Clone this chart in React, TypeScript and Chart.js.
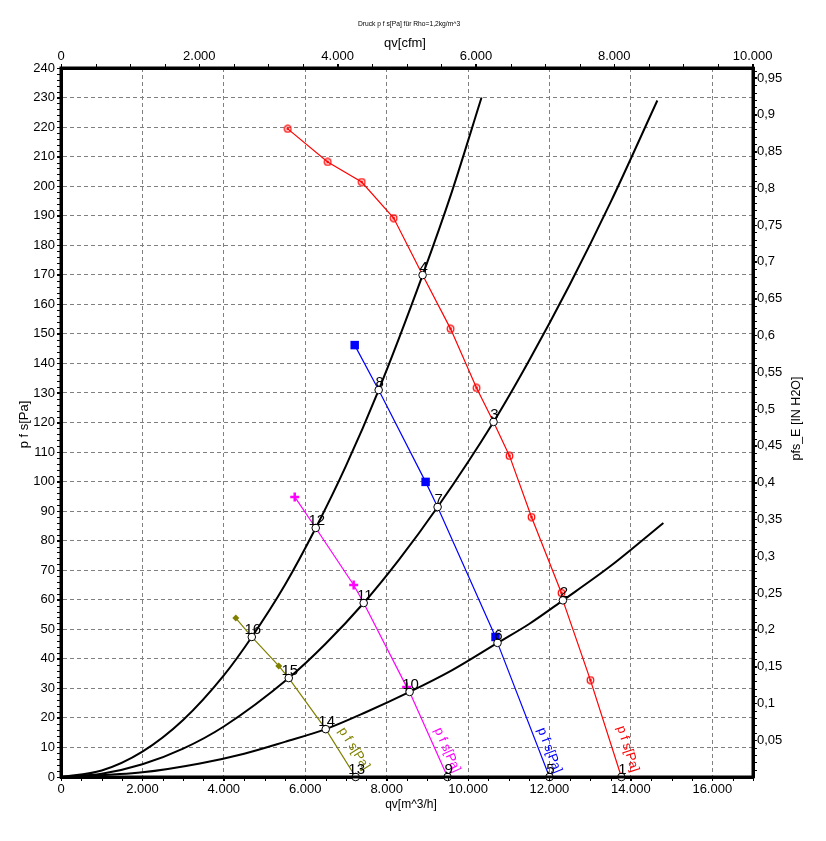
import React, { useEffect, useRef } from 'react';
import { Chart, registerables } from 'chart.js';

Chart.register(...registerables);

const FONT = "'Liberation Sans', Arial, Helvetica, sans-serif";

// axis ranges
const xMax = 17000; // qv [m^3/h]
const yMax = 240; // p f s [Pa]
const M3H_PER_CFM = 1.699;
const PA_PER_INH2O = 249.089;

// tick label values
const xTicks = [0, 2000, 4000, 6000, 8000, 10000, 12000, 14000, 16000];
const cfmTicks = [0, 2000, 4000, 6000, 8000, 10000];
const yTicks = [0, 10, 20, 30, 40, 50, 60, 70, 80, 90, 100, 110, 120, 130, 140, 150, 160, 170, 180, 190, 200, 210, 220, 230, 240];
const inTicks = [0.05, 0.1, 0.15, 0.2, 0.25, 0.3, 0.35, 0.4, 0.45, 0.5, 0.55, 0.6, 0.65, 0.7, 0.75, 0.8, 0.85, 0.9, 0.95];

// system curves (black)
const sysAX = [0, 1000, 2000, 3000, 4000, 4687, 5500, 6258, 7000, 7804, 8883, 9600, 10331];
const sysAY = [0, 2.2, 8.6, 19.3, 34.4, 47.4, 65, 84.3, 105.3, 131, 169.9, 198, 230];
const sysBX = [0, 1000, 2000, 3000, 4000, 5595, 6500, 7436, 8300, 9252, 10626, 11500, 12500, 13500, 14650];
const sysBY = [0, 1.1, 4.3, 9.6, 17.1, 33.5, 45.1, 58.9, 73.5, 91.4, 120.2, 141, 166.7, 194.5, 229];
const sysCX = [0, 2000, 3411, 4500, 5500, 6503, 7500, 8564, 9600, 10724, 11500, 12330, 13500, 14798];
const sysCY = [0, 1.6, 4.6, 7.9, 11.9, 16.2, 22, 28.8, 36.1, 45.4, 51.8, 59.8, 71.4, 86];

// fan curves
const redX = [5571, 6552, 7387, 8172, 8883, 9571, 10209, 10626, 11018, 11558, 12294, 12330, 13006, 13767];
const redY = [219.4, 208.2, 201.4, 189.2, 169.9, 151.7, 131.7, 120.2, 108.7, 88, 62.3, 59.8, 32.8, 0];
const redMark = [1, 1, 1, 1, 0, 1, 1, 0, 1, 1, 1, 0, 1, 0];

const blueX = [7215, 7804, 8957, 9252, 10675, 10724, 12000];
const blueY = [146.2, 131, 99.9, 91.4, 47.4, 45.4, 0];
const blueMark = [1, 0, 1, 0, 1, 0, 0];

const magX = [5742, 6258, 7190, 7436, 8491, 8564, 9497];
const magY = [94.8, 84.3, 65, 58.9, 30.5, 28.8, 0];
const magMark = [1, 0, 1, 0, 1, 0, 0];

const oliveX = [4294, 4687, 5350, 5595, 6503, 7239];
const oliveY = [53.8, 47.4, 37.6, 33.5, 16.2, 0];
const oliveMark = [1, 0, 1, 0, 0, 0];

// numbered operating points
const opLabels = ['1', '2', '3', '4', '5', '6', '7', '8', '9', '10', '11', '12', '13', '14', '15', '16'];
const opX = [13767, 12330, 10626, 8883, 12000, 10724, 9252, 7804, 9497, 8564, 7436, 6258, 7239, 6503, 5595, 4687];
const opY = [0, 59.8, 120.2, 169.9, 0, 45.4, 91.4, 131, 0, 28.8, 58.9, 84.3, 0, 16.2, 33.5, 47.4];

const pts = (xs: number[], ys: number[]) => xs.map((x, i) => ({ x, y: ys[i] }));
const fmtThousands = (v: number) => String(Math.round(v)).replace(/\B(?=(\d{3})+(?!\d))/g, '.');
const fmtDec = (v: number) => String(Math.round(v * 100) / 100).replace('.', ',');

function makeRedMarker() {
  const c = document.createElement('canvas');
  c.width = 9;
  c.height = 9;
  const g = c.getContext('2d')!;
  g.strokeStyle = '#ff0000';
  g.lineWidth = 1.2;
  g.beginPath();
  g.arc(4.5, 4.5, 3.3, 0, Math.PI * 2);
  g.stroke();
  g.fillStyle = '#ff0000';
  g.beginPath();
  g.arc(4.5, 4.5, 1.4, 0, Math.PI * 2);
  g.fill();
  return c;
}

function drawFanLabel(chart: any, xs: number[], ys: number[], color: string, off: number) {
  const ctx = chart.ctx;
  const xS = chart.scales.x;
  const yS = chart.scales.y;
  const n = xs.length;
  const p1x = xS.getPixelForValue(xs[n - 2]);
  const p1y = yS.getPixelForValue(ys[n - 2]);
  const p0x = xS.getPixelForValue(xs[n - 1]);
  const p0y = yS.getPixelForValue(ys[n - 1]);
  const dx = p0x - p1x;
  const dy = p0y - p1y;
  const len = Math.hypot(dx, dy);
  const ux = dx / len;
  const uy = dy / len;
  const text = 'p f s[Pa]';
  ctx.save();
  ctx.font = `13px ${FONT}`;
  const w = ctx.measureText(text).width;
  const back = w + 1;
  const nx = uy;
  const ny = -ux;
  const sx = p0x - ux * back + nx * off;
  const sy = p0y - uy * back + ny * off;
  ctx.translate(sx, sy);
  ctx.rotate(Math.atan2(uy, ux));
  ctx.fillStyle = color;
  ctx.textAlign = 'left';
  ctx.textBaseline = 'alphabetic';
  ctx.fillText(text, 0, 0);
  ctx.restore();
}

const overlay = {
  id: 'overlay',
  afterDatasetsDraw(chart: any) {
    const ctx = chart.ctx;
    const { left, right, top, bottom } = chart.chartArea;
    const xS = chart.scales.x;
    const yS = chart.scales.y;

    drawFanLabel(chart, redX, redY, '#ff0000', 11);
    drawFanLabel(chart, blueX, blueY, '#0000ff', 6);
    drawFanLabel(chart, magX, magY, '#ff00ff', 7);
    drawFanLabel(chart, oliveX, oliveY, '#808000', 10);

    // numbers of operating points
    ctx.save();
    ctx.font = `15px ${FONT}`;
    ctx.fillStyle = '#000';
    ctx.textAlign = 'center';
    ctx.textBaseline = 'alphabetic';
    opLabels.forEach((lab, i) => {
      const px = xS.getPixelForValue(opX[i]);
      const py = yS.getPixelForValue(opY[i]);
      ctx.fillText(lab, px + 1, py - 3);
    });
    ctx.restore();

    // frame on top
    ctx.save();
    ctx.strokeStyle = '#000';
    ctx.lineWidth = 3;
    ctx.strokeRect(left, top, right - left, bottom - top);
    ctx.restore();
  },
  afterDraw(chart: any) {
    const ctx = chart.ctx;
    const { left, right, top, bottom } = chart.chartArea;
    const cx = (left + right) / 2;
    const xS = chart.scales.x;
    const x2S = chart.scales.x2;
    const yS = chart.scales.y;
    const y2S = chart.scales.y2;

    // minor ticks
    ctx.save();
    ctx.strokeStyle = '#000';
    ctx.lineWidth = 1;
    ctx.beginPath();
    for (let v = 0; v <= yMax; v += 2) {
      const y = Math.round(yS.getPixelForValue(v)) + 0.5;
      ctx.moveTo(left - 1, y);
      ctx.lineTo(left - 4, y);
    }
    for (let v = 0; v <= xMax; v += 500) {
      const x = Math.round(xS.getPixelForValue(v)) + 0.5;
      ctx.moveTo(x, bottom + 1);
      ctx.lineTo(x, bottom + 4);
    }
    for (let v = 0; v <= 10000; v += 500) {
      const x = Math.round(x2S.getPixelForValue(v)) + 0.5;
      ctx.moveTo(x, top - 1);
      ctx.lineTo(x, top - 4);
    }
    for (let k = 1; k <= 96; k++) {
      const y = Math.round(y2S.getPixelForValue(k / 100)) + 0.5;
      ctx.moveTo(right + 1, y);
      ctx.lineTo(right + 4, y);
    }
    ctx.stroke();
    ctx.restore();

    // titles
    ctx.save();
    ctx.fillStyle = '#000';
    ctx.textAlign = 'center';
    ctx.textBaseline = 'middle';
    ctx.font = `6.7px ${FONT}`;
    ctx.fillText('Druck p f s[Pa] für Rho=1,2kg/m^3', cx + 2, 24);
    ctx.font = `13px ${FONT}`;
    ctx.fillText('qv[cfm]', cx - 2, 43);
    ctx.font = `12px ${FONT}`;
    ctx.fillText('qv[m^3/h]', cx + 4, 805);
    ctx.font = `13px ${FONT}`;
    ctx.save();
    ctx.translate(24, (top + bottom) / 2 + 2);
    ctx.rotate(-Math.PI / 2);
    ctx.fillText('p f s[Pa]', 0, 0);
    ctx.restore();
    ctx.font = `12.5px ${FONT}`;
    ctx.save();
    ctx.translate(797, (top + bottom) / 2 - 4);
    ctx.rotate(-Math.PI / 2);
    ctx.fillText('pfs_E [IN H2O]', 0, 0);
    ctx.restore();
    ctx.restore();
  },
};

export default function App() {
  const ref = useRef<HTMLCanvasElement | null>(null);

  useEffect(() => {
    if (!ref.current) return;
    const redMarker = makeRedMarker();
    const tickFont = { family: FONT, size: 13 };
    const gridCommon = {
      color: '#808080',
      lineWidth: 1,
      tickColor: '#000',
      tickLength: 4,
    };
    const borderCommon = { display: true, color: '#000', width: 3, dash: [4, 3] };

    const lineDs = (xs: number[], ys: number[], color: string, width: number) => ({
      data: pts(xs, ys),
      showLine: true,
      borderColor: color,
      borderWidth: width,
      pointRadius: 0,
      cubicInterpolationMode: 'monotone' as const,
    });

    const chart = new Chart(ref.current, {
      type: 'scatter',
      data: {
        datasets: [
          {
            data: pts(opX, opY),
            showLine: false,
            pointRadius: 3.8,
            pointBackgroundColor: '#ffffff',
            pointBorderColor: '#000000',
            pointBorderWidth: 1,
            clip: false,
          } as any,
          {
            data: pts(redX, redY),
            showLine: true,
            borderColor: '#ff0000',
            borderWidth: 1.2,
            pointStyle: redMarker,
            pointRadius: redMark.map((m) => (m ? 4 : 0)),
          } as any,
          {
            data: pts(blueX, blueY),
            showLine: true,
            borderColor: '#0000ff',
            borderWidth: 1.2,
            pointStyle: 'rect',
            pointRadius: blueMark.map((m) => (m ? 6 : 0)),
            pointBackgroundColor: '#0000ff',
            pointBorderColor: '#0000ff',
            pointBorderWidth: 0,
          } as any,
          {
            data: pts(magX, magY),
            showLine: true,
            borderColor: '#ff00ff',
            borderWidth: 1.2,
            pointStyle: 'cross',
            pointRadius: magMark.map((m) => (m ? 4.5 : 0)),
            pointBorderColor: '#ff00ff',
            pointBorderWidth: 2.5,
          } as any,
          {
            data: pts(oliveX, oliveY),
            showLine: true,
            borderColor: '#808000',
            borderWidth: 1.2,
            pointStyle: 'rectRot',
            pointRadius: oliveMark.map((m) => (m ? 3.5 : 0)),
            pointBackgroundColor: '#808000',
            pointBorderColor: '#808000',
            pointBorderWidth: 0,
          } as any,
          lineDs(sysAX, sysAY, '#000000', 2) as any,
          lineDs(sysBX, sysBY, '#000000', 2) as any,
          lineDs(sysCX, sysCY, '#000000', 2) as any,
        ],
      },
      options: {
        responsive: false,
        animation: false,
        devicePixelRatio: 1,
        events: [],
        layout: { padding: 0 },
        plugins: {
          legend: { display: false },
          tooltip: { enabled: false },
          title: { display: false },
        },
        scales: {
          x: {
            type: 'linear',
            position: 'bottom',
            min: 0,
            max: xMax,
            afterBuildTicks: (s: any) => {
              s.ticks = xTicks.map((v) => ({ value: v }));
            },
            afterFit: (s: any) => {
              s.height = 64;
            },
            grid: { ...gridCommon, drawOnChartArea: true },
            border: borderCommon,
            ticks: {
              font: tickFont,
              color: '#000',
              padding: 1,
              autoSkip: false,
              maxRotation: 0,
              callback: (v: any) => fmtThousands(Number(v)),
            },
          },
          x2: {
            type: 'linear',
            position: 'top',
            min: 0,
            max: xMax / M3H_PER_CFM,
            afterBuildTicks: (s: any) => {
              s.ticks = cfmTicks.map((v) => ({ value: v }));
            },
            afterFit: (s: any) => {
              s.height = 68;
            },
            grid: { ...gridCommon, drawOnChartArea: false },
            border: { display: true, color: '#000', width: 3 },
            ticks: {
              font: tickFont,
              color: '#000',
              padding: 0,
              autoSkip: false,
              maxRotation: 0,
              callback: (v: any) => fmtThousands(Number(v)),
            },
          },
          y: {
            type: 'linear',
            position: 'left',
            min: 0,
            max: yMax,
            afterBuildTicks: (s: any) => {
              s.ticks = yTicks.map((v) => ({ value: v }));
            },
            afterFit: (s: any) => {
              s.width = 61;
            },
            grid: { ...gridCommon, drawOnChartArea: true },
            border: borderCommon,
            ticks: {
              font: tickFont,
              color: '#000',
              padding: 2,
              autoSkip: false,
              callback: (v: any) => String(v),
            },
          },
          y2: {
            type: 'linear',
            position: 'right',
            min: 0,
            max: yMax / PA_PER_INH2O,
            afterBuildTicks: (s: any) => {
              s.ticks = inTicks.map((v) => ({ value: v }));
            },
            afterFit: (s: any) => {
              s.width = 73;
            },
            grid: { ...gridCommon, drawOnChartArea: false },
            border: { display: true, color: '#000', width: 3 },
            ticks: {
              font: tickFont,
              color: '#000',
              padding: 0,
              autoSkip: false,
              callback: (v: any) => fmtDec(Number(v)),
            },
          },
        },
      } as any,
      plugins: [overlay],
    });

    return () => {
      chart.destroy();
    };
  }, []);

  return (
    <div style={{ position: 'absolute', left: 0, top: 0, width: 826, height: 841, background: '#fff' }}>
      <canvas ref={ref} width={826} height={841} style={{ display: 'block', width: 826, height: 841 }} />
    </div>
  );
}
